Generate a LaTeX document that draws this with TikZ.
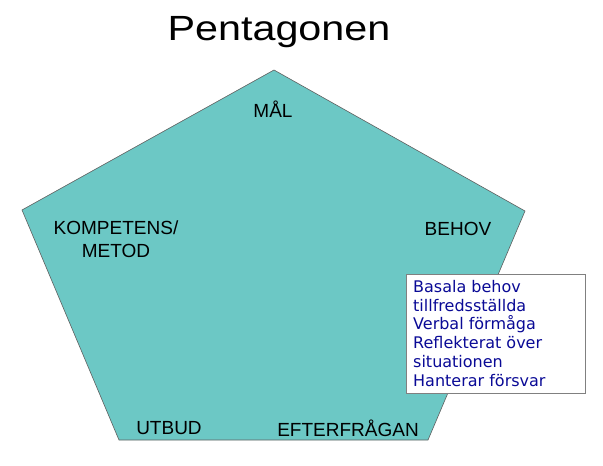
\documentclass[tikz,border=0pt]{standalone}
\usepackage{fontspec}
\setmainfont{Liberation Sans}
\newfontfamily\boxfont{DejaVu Sans}
\usepackage{xcolor}
\usepackage{tikz}
\definecolor{pentfill}{RGB}{108,200,197}
\definecolor{pentline}{RGB}{95,95,95}
\definecolor{notetext}{RGB}{10,10,150}
\tikzset{
	corner/.style={font=\fontsize{19}{23}\selectfont, align=center, inner sep=0pt},
	notebox/.style={draw=gray, fill=white, line width=0.6pt, minimum width=179pt, minimum height=119pt, inner sep=0pt},
	notelines/.style={text=notetext, font=\boxfont\fontsize{16}{18.8}\selectfont, align=left, anchor=north west, inner sep=0pt}
}
\begin{document}
\begin{tikzpicture}[x=1pt,y=-1pt]
				\useasboundingbox[fill=white] (0,0) rectangle (603,466);
				\foreach \x/\y/\z in
				{T/274/70, R/525/211, BR/428/440, BL/119/440, L/22/210}{
					\coordinate(\x) at (\y,\z);
				}
				
				% the pentagon
				\draw[fill=pentfill, draw=pentline, line width=0.6pt] (T)--(R)--(BR)--(BL)--(L)--cycle;
				
				% title
				\node[font=\fontsize{35}{40}\selectfont, xscale=1.18] (title) at (279,32) {Pentagonen};
				
				% corner labels
				\node[corner] (mal) at (273,109) {MÅL};
				\node[corner] (behov) at (458,229) {BEHOV};
				\node[corner] (komp) at (116,239) {KOMPETENS/\\METOD};
				\node[corner] (utbud) at (169,428) {UTBUD};
				\node[corner] (efter) at (348,428) {EFTERFRÅGAN};
				
				% note on the right
				\node[notebox, anchor=north west] (note) at (406,274) {};
				\node[notelines] (notetxt) at (413,280) {Basala behov\\tillfredsställda\\Verbal förmåga\\Reflekterat över\\situationen\\Hanterar försvar};
			\end{tikzpicture}
\end{document}
